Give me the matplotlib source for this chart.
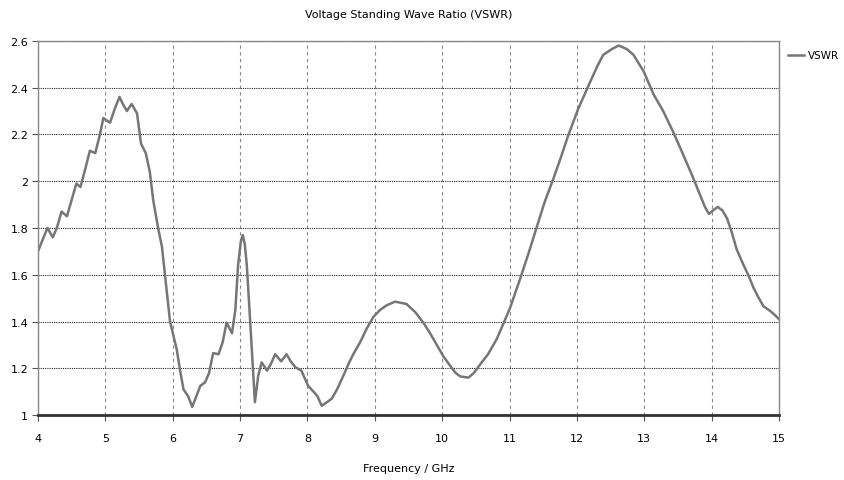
import numpy as np
import matplotlib
matplotlib.use("Agg")
import matplotlib.pyplot as plt

plt.rcParams['font.family'] = ['DejaVu Sans']

# values
freq = [4.00, 4.07, 4.14, 4.22, 4.28, 4.35, 4.43, 4.50, 4.57, 4.63, 4.70, 4.77,
        4.85, 4.92, 4.97, 5.07, 5.14, 5.21, 5.26, 5.32, 5.39, 5.47, 5.53, 5.60,
        5.66, 5.71, 5.74, 5.79, 5.84, 5.90, 5.96, 6.06, 6.11, 6.16, 6.23, 6.29,
        6.35, 6.41, 6.48, 6.54, 6.60, 6.68, 6.74, 6.80, 6.88, 6.93, 6.97, 7.01,
        7.04, 7.07, 7.10, 7.15, 7.19, 7.22, 7.27, 7.32, 7.40, 7.46, 7.52, 7.61,
        7.69, 7.75, 7.82, 7.91, 8.01, 8.09, 8.15, 8.21, 8.29, 8.36, 8.44, 8.52,
        8.62, 8.68, 8.78, 8.88, 8.98, 9.08, 9.18, 9.30, 9.47, 9.60, 9.72, 9.82,
        9.92, 10.02, 10.12, 10.20, 10.27, 10.39, 10.47, 10.56, 10.68, 10.81,
        10.90, 11.01, 11.16, 11.28, 11.40, 11.52, 11.65, 11.76, 11.87, 12.02,
        12.19, 12.30, 12.39, 12.52, 12.62, 12.74, 12.84, 12.99, 13.14, 13.28,
        13.43, 13.56, 13.71, 13.83, 13.90, 13.96, 14.02, 14.09, 14.16, 14.23,
        14.30, 14.37, 14.46, 14.55, 14.62, 14.70, 14.77, 14.87, 14.93, 15.00]
vswr = [1.70, 1.75, 1.80, 1.76, 1.80, 1.87, 1.85, 1.92, 1.99, 1.975, 2.05, 2.13,
        2.12, 2.20, 2.27, 2.25, 2.31, 2.36, 2.33, 2.30, 2.33, 2.29, 2.16, 2.12,
        2.04, 1.92, 1.87, 1.79, 1.72, 1.56, 1.40, 1.28, 1.19, 1.11, 1.08, 1.035,
        1.08, 1.125, 1.14, 1.18, 1.265, 1.26, 1.31, 1.395, 1.35, 1.45, 1.64, 1.74,
        1.77, 1.73, 1.64, 1.40, 1.20, 1.055, 1.17, 1.225, 1.19, 1.22, 1.26, 1.23,
        1.26, 1.23, 1.205, 1.19, 1.125, 1.10, 1.08, 1.04, 1.055, 1.07, 1.11, 1.16,
        1.225, 1.26, 1.31, 1.37, 1.42, 1.45, 1.47, 1.485, 1.475, 1.44, 1.395, 1.35,
        1.30, 1.25, 1.21, 1.18, 1.165, 1.16, 1.18, 1.215, 1.26, 1.325, 1.385, 1.46,
        1.585, 1.69, 1.80, 1.91, 2.01, 2.10, 2.195, 2.31, 2.42, 2.49, 2.54, 2.565,
        2.58, 2.565, 2.54, 2.47, 2.37, 2.30, 2.21, 2.125, 2.025, 1.94, 1.89, 1.86,
        1.875, 1.89, 1.875, 1.84, 1.78, 1.71, 1.65, 1.595, 1.545, 1.50, 1.465,
        1.445, 1.43, 1.41]

xticks = list(range(4, 16))
yticks = [1, 1.2, 1.4, 1.6, 1.8, 2, 2.2, 2.4, 2.6]
ytick_labels = ['1', '1.2', '1.4', '1.6', '1.8', '2', '2.2', '2.4', '2.6']

fig = plt.figure(figsize=(8.44, 4.81), dpi=100)
ax = fig.add_axes([0.045, 0.135, 0.878, 0.778])

ax.plot(freq, vswr, color='#767676', linewidth=1.8, label='VSWR')

ax.set_xlim(4, 15)
ax.set_ylim(1, 2.6)
ax.set_xticks(xticks)
ax.set_yticks(yticks)
ax.set_yticklabels(ytick_labels)
ax.tick_params(labelsize=8, length=4, width=0.8, color='#555555', pad=3)
ax.tick_params(axis='x', pad=9)

# grid: dashed grey verticals, dotted black horizontals
ax.xaxis.grid(True, linestyle=(0, (3, 3)), color='#888888', linewidth=0.8)
ax.yaxis.grid(True, linestyle=(0, (1, 1)), color='#222222', linewidth=0.8)

for side in ['top', 'left', 'right']:
    ax.spines[side].set_color('#888888')
    ax.spines[side].set_linewidth(1)
ax.spines['bottom'].set_color('#333333')
ax.spines['bottom'].set_linewidth(2)

ax.set_title('Voltage Standing Wave Ratio (VSWR)', fontsize=8, pad=17)
ax.set_xlabel('Frequency / GHz', fontsize=8, labelpad=14)

ax.legend(loc='upper left', bbox_to_anchor=(1.012, 0.975), frameon=False,
          fontsize=7.5, handlelength=1.5, handletextpad=0.4, borderaxespad=0,
          borderpad=0)

fig.savefig('out.png', dpi=100)
